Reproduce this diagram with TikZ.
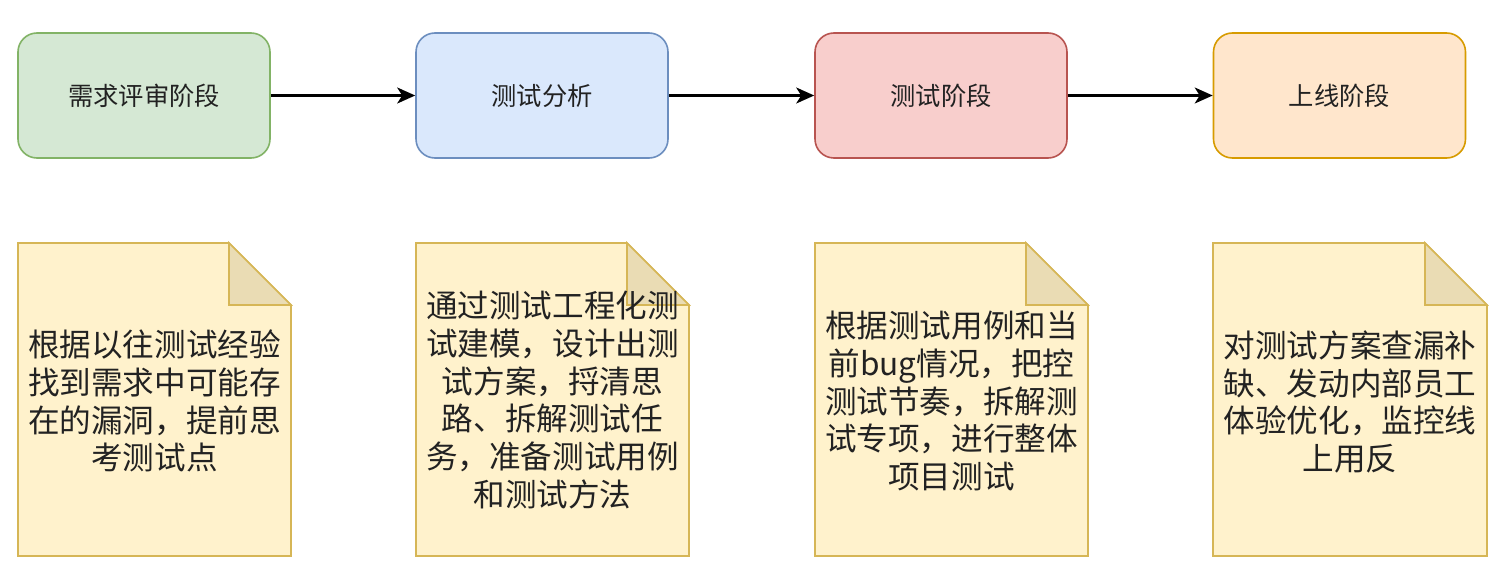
\documentclass[tikz,border=0pt]{standalone}
\usepackage{fontspec}
\newfontfamily\cjk{Noto Sans CJK SC}
\usetikzlibrary{arrows.meta}
\definecolor{gfill}{HTML}{D5E8D4}\definecolor{gline}{HTML}{82B366}
\definecolor{bfill}{HTML}{DAE8FC}\definecolor{bline}{HTML}{6C8EBF}
\definecolor{rfill}{HTML}{F8CECC}\definecolor{rline}{HTML}{B85450}
\definecolor{ofill}{HTML}{FFE6CC}\definecolor{oline}{HTML}{D79B00}
\definecolor{nfill}{HTML}{FFF2CC}\definecolor{nline}{HTML}{D6B656}
\definecolor{nfold}{HTML}{EADCB4}
\definecolor{txt}{HTML}{222222}
\tikzset{
  stagebox/.style={draw, rounded corners=19pt, line width=1.6pt, minimum width=252pt, minimum height=125pt, inner sep=0pt, font=\cjk\fontsize{25.3}{30}\selectfont, text=txt},
  notebody/.style={draw=nline, fill=nfill, line width=1.6pt, line join=miter},
  notefold/.style={draw=nline, fill=nfold, line width=1.6pt, line join=miter},
  notetext/.style={align=center, inner sep=0pt, font=\cjk\fontsize{31.6}{37.8}\selectfont, text=txt},
  flow/.style={-{Stealth[length=18pt,width=16pt,inset=5pt]}, line width=2.3pt, black}
}
\newcommand{\notepaper}[4]{% x1,y1,x2,y2
  \path[notebody] (#1,#2) -- (#3-62,#2) -- (#3,#2+62) -- (#3,#4) -- (#1,#4) -- cycle;
  \path[notefold] (#3-62,#2) -- (#3-62,#2+62) -- (#3,#2+62) -- cycle;
}
\begin{document}
\begin{tikzpicture}[x=1pt,y=-1pt]
\useasboundingbox (0,0) rectangle (1504,580);
\fill[white] (0,0) rectangle (1504,580);

\node[stagebox, draw=gline, fill=gfill] (s1) at (144,95.5) {需求评审阶段};
\node[stagebox, draw=bline, fill=bfill] (s2) at (542,95.5) {测试分析};
\node[stagebox, draw=rline, fill=rfill] (s3) at (941,95.5) {测试阶段};
\node[stagebox, draw=oline, fill=ofill] (s4) at (1339.5,95.5) {上线阶段};

\draw[flow] (s1) -- (s2);
\draw[flow] (s2) -- (s3);
\draw[flow] (s3) -- (s4);

\notepaper{18}{243}{291}{556}
\notepaper{416}{243}{689}{556}
\notepaper{815}{243}{1088}{556}
\notepaper{1213}{243}{1487}{556}

\node[notetext] (t1) at (154.5,401) {根据以往测试经验\\找到需求中可能存\\在的漏洞，提前思\\考测试点};
\node[notetext] (t2) at (552.5,400) {通过测试工程化测\\试建模，设计出测\\试方案，捋清思\\路、拆解测试任\\务，准备测试用例\\和测试方法};
\node[notetext] (t3) at (951.5,401) {根据测试用例和当\\前bug情况，把控\\测试节奏，拆解测\\试专项，进行整体\\项目测试};
\node[notetext] (t4) at (1350,402) {对测试方案查漏补\\缺、发动内部员工\\体验优化，监控线\\上用反};
\end{tikzpicture}
\end{document}
